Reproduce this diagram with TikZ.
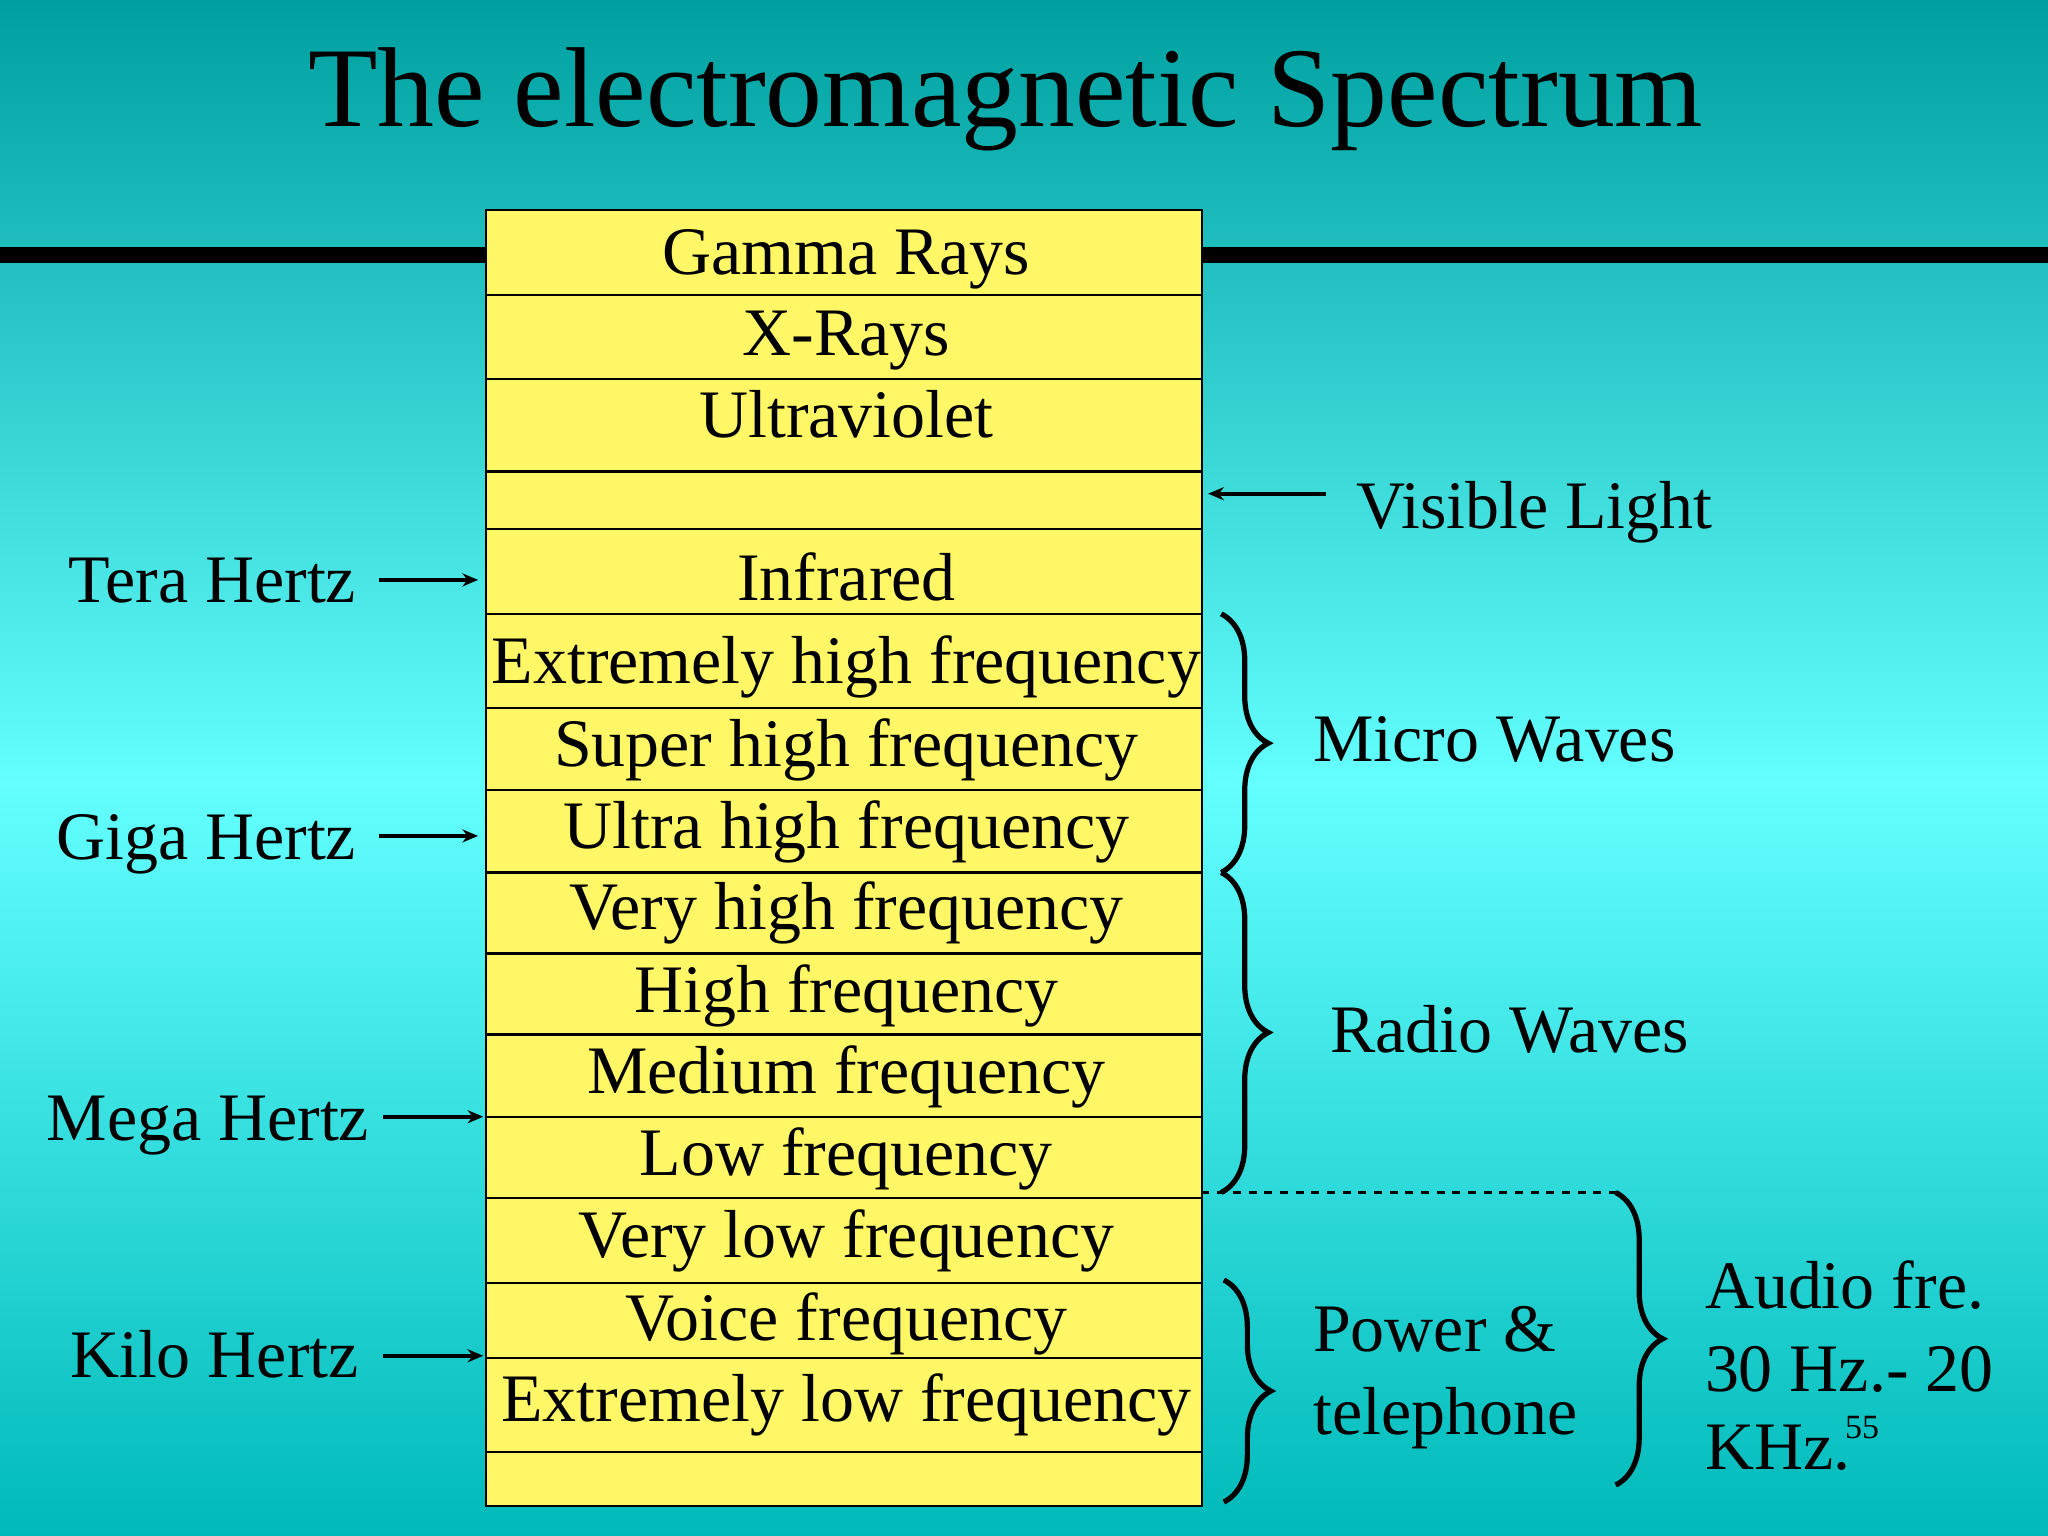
\documentclass[tikz,border=0pt]{standalone}
\usepackage{fontspec}
\setmainfont{Liberation Serif}
\usetikzlibrary{decorations.pathreplacing,arrows.meta}
\begin{document}
\begin{tikzpicture}[x=0.5pt,y=-0.5pt,
  lbl/.style={font=\fontsize{26}{29}\selectfont,anchor=base,inner sep=0pt},
  lbll/.style={lbl,anchor=base west},
  lblr/.style={lbl,anchor=base east},
  arr/.style={-{Stealth[length=6pt,width=5pt]},line width=1.6pt},
  brc/.style={decorate,decoration={brace,amplitude=18pt},line width=2pt}]
\shade[top color={rgb,255:red,0;green,160;blue,160},bottom color={rgb,255:red,100;green,255;blue,255}] (0,0) rectangle (1568,600);
\shade[top color={rgb,255:red,100;green,255;blue,255},bottom color={rgb,255:red,0;green,185;blue,185}] (0,600) rectangle (1568,1176);
\useasboundingbox (0,0) rectangle (1568,1176);
\node[font=\fontsize{43.5}{48}\selectfont,anchor=base,inner sep=0pt] (title) at (770,97) {The electromagnetic Spectrum};
\fill (0,189) rectangle (1568,201);
\fill[yellow!60!white, draw=black, line width=0.8pt] (372,161) rectangle (920,1153);
\foreach \y in {226,290,361,405,470,542,605,668,730,792,855,917,982,1040,1112}
  \draw[line width=0.8pt] (372,\y) -- (920,\y);
\foreach \t/\b [count=\i] in {Gamma Rays/210, X-Rays/272, Ultraviolet/335, Infrared/460,
  Extremely high frequency/523, Super high frequency/587, Ultra high frequency/650,
  Very high frequency/712, High frequency/775, Medium frequency/837, Low frequency/900,
  Very low frequency/963, Voice frequency/1026, Extremely low frequency/1088}
  \node[lbl] (r\i) at (648,\b) {\t};
% left labels
\node[lblr] (tera) at (273,461) {Tera Hertz};
\coordinate (terae) at (366,444);
\draw[arr] (290,444) -- (terae);
\node[lblr] (giga) at (273,658) {Giga Hertz};
\coordinate (gigae) at (366,640);
\draw[arr] (290,640) -- (gigae);
\node[lblr] (mega) at (283,873) {Mega Hertz};
\coordinate (megae) at (370,855);
\draw[arr] (293,855) -- (megae);
\node[lblr] (kilo) at (275,1055) {Kilo Hertz};
\coordinate (kiloe) at (370,1038);
\draw[arr] (293,1038) -- (kiloe);
% visible
\node[lbll] (vis) at (1038,405) {Visible Light};
\coordinate (visa) at (1015,378);
\coordinate (visb) at (925,378);
\draw[arr] (visa) -- (visb);
% braces
\draw[brc] (935,470) -- (935,668);
\node[lbll] (micro) at (1005,583) {Micro Waves};
\draw[brc] (935,668) -- (935,913);
\node[lbll] (radio) at (1018,806) {Radio Waves};
\draw[dashed,line width=0.8pt] (920,913) -- (1240,913);
\draw[brc] (1237,913) -- (1237,1137);
\node[lbll] (aud1) at (1305,1002) {Audio fre.};
\node[lbll] (aud2) at (1305,1065) {30 Hz.- 20};
\node[lbll] (aud3) at (1305,1125) {KHz.\kern-2pt\raisebox{0.45em}{\fontsize{13}{14}\selectfont 55}};
\draw[brc] (937,980) -- (937,1150);
\node[lbll] (pow1) at (1005,1035) {Power \&};
\node[lbll] (pow2) at (1005,1098) {telephone};
\end{tikzpicture}
\end{document}
